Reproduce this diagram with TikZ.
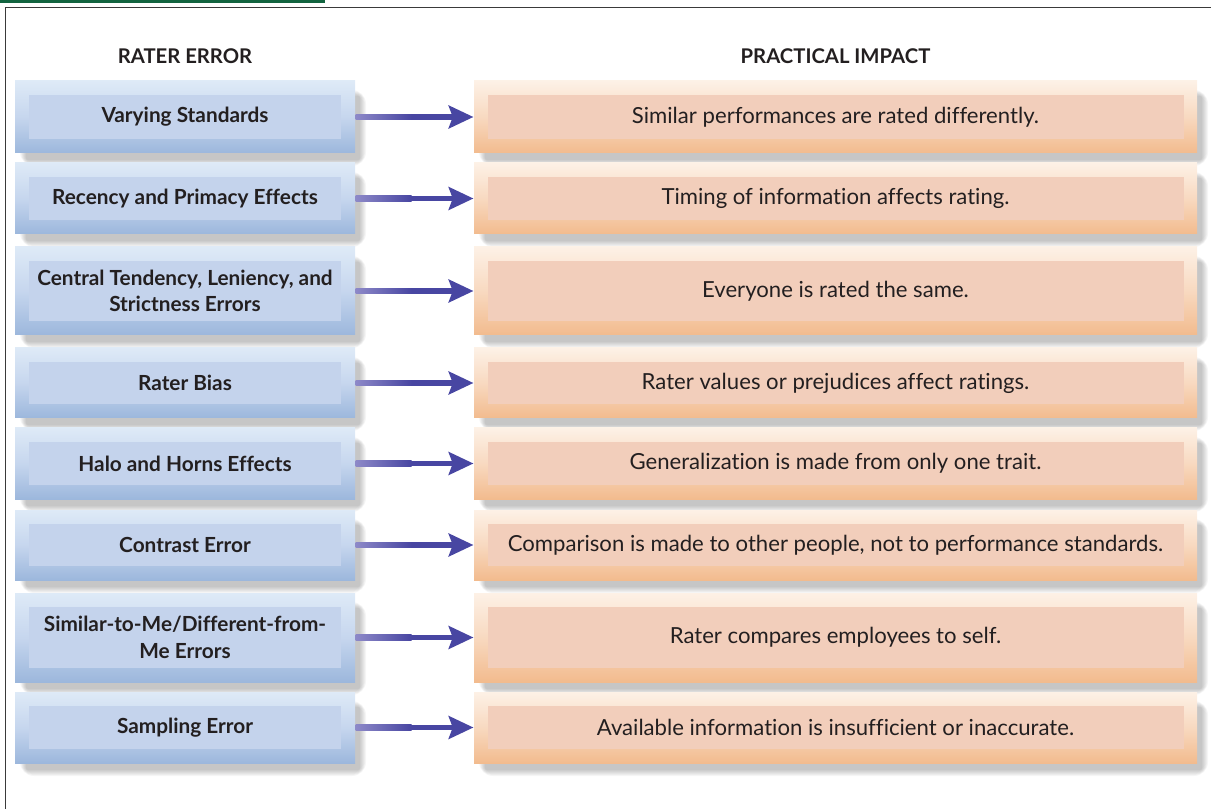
\documentclass[tikz,border=0pt]{standalone}
\usepackage{fontspec}
\setmainfont{Lato}[Ligatures=NoCommon]
\usetikzlibrary{arrows.meta}

\definecolor{framegreen}{HTML}{12643F}
\definecolor{framegray}{HTML}{3A3A3A}
\definecolor{inktext}{HTML}{231F20}
\definecolor{errtop}{HTML}{DEEAF7}
\definecolor{errmid}{HTML}{C6D6EE}
\definecolor{errbot}{HTML}{9CB7DC}
\definecolor{errin}{HTML}{C4D3EC}
\definecolor{imptop}{HTML}{FDF1E6}
\definecolor{impmid}{HTML}{F8D9C0}
\definecolor{impbot}{HTML}{F2BB8E}
\definecolor{impin}{HTML}{F2CEBB}
\definecolor{arrdark}{HTML}{4846A2}
\definecolor{arrlight}{HTML}{8D89C8}

\begin{document}
\begin{tikzpicture}[x=0.75pt,y=-0.75pt,line width=0.8pt,
  head/.style={font=\bfseries\fontsize{15.2}{18}\selectfont,text=inktext},
  outerbox/.style={inner sep=0pt,minimum height=#1*0.75pt},
  errbox/.style={outerbox=#1,shade,top color=errtop,bottom color=errbot,middle color=errmid,minimum width=340*0.75pt},
  impbox/.style={outerbox=#1,shade,top color=imptop,bottom color=impbot,middle color=impmid,minimum width=723*0.75pt},
  errlabel/.style={fill=errin,text=inktext,inner sep=0pt,align=center,minimum width=312*0.75pt,minimum height=#1*0.75pt,font=\bfseries\fontsize{15.6}{19.8}\selectfont},
  implabel/.style={fill=impin,text=inktext,inner sep=0pt,align=center,minimum width=696*0.75pt,minimum height=#1*0.75pt,font=\fontsize{16.6}{19.8}\selectfont},
  arr/.style={draw=arrdark,line width=3.8pt,-{Stealth[length=18.5pt,width=17pt,inset=3pt]}}]
  \def\LA{15}   % left column
  \def\LB{355}
  \def\RA{474}  % right column
  \def\RB{1197}
  \def\pad{14}  % inner inset

  \useasboundingbox (0,0) rectangle (1211,809);

  % ================= frame =================
  \fill[framegreen] (0,0) rectangle (325,3.5);
  \draw[framegray,line width=1.1pt] (5.5,809) |- (1211,7.5);

  % ================= headers =================
  \node[head] (hdrerr) at ({(\LA+\LB)/2},56) {RATER ERROR};
  \node[head] (hdrimp) at ({(\RA+\RB)/2},56) {PRACTICAL IMPACT};

  % ================= shadows =================
  \foreach \t/\b in {81/153,163/234,247/335,348/418,428/499,510/580,593/682,692/763}{
    \foreach \s in {1,...,7}{
      \fill[black,opacity=0.035,rounded corners=\s*1.5pt]
        (\LA+12-\s,\t+16-\s) rectangle (\LB+\s+4,\b+\s+6);
      \fill[black,opacity=0.035,rounded corners=\s*1.5pt]
        (\RA+12-\s,\t+16-\s) rectangle (\RB+\s+4,\b+\s+6);
    }
  }

  % ================= rows =================
  \foreach \t/\b/\err/\imp [count=\i] in {
      81/153/{Varying Standards}/{Similar performances are rated differently.},
      163/234/{Recency and Primacy Effects}/{Timing of information affects rating.},
      247/335/{Central Tendency, Leniency, and\\Strictness Errors}/{Everyone is rated the same.},
      348/418/{Rater Bias}/{Rater values or prejudices affect ratings.},
      428/499/{Halo and Horns Effects}/{Generalization is made from only one trait.},
      510/580/{Contrast Error}/{Comparison is made to other people, not to performance standards.},
      593/682/{Similar-to-Me/Different-from-\\Me Errors}/{Rater compares employees to self.},
      692/763/{Sampling Error}/{Available information is insufficient or inaccurate.}}{
    \pgfmathsetmacro{\h}{\b-\t}
    \pgfmathsetmacro{\hin}{\b-\t-2*\pad}
    \pgfmathsetmacro{\c}{(\t+\b)/2}
    \node[errbox=\h] (errbox\i) at ({(\LA+\LB)/2},\c) {};
    \node[errlabel=\hin] (err\i) at (errbox\i.center) {\err};
    \node[impbox=\h] (impbox\i) at ({(\RA+\RB)/2},\c) {};
    \node[implabel=\hin] (imp\i) at (impbox\i.center) {\imp};
    \draw[arr] (errbox\i.east) -- (impbox\i.west);
    \shade[left color=arrlight,right color=arrdark]
      ([yshift=-1.9pt]errbox\i.east) rectangle ([xshift=42pt,yshift=1.9pt]errbox\i.east);
  }
\end{tikzpicture}
\end{document}
